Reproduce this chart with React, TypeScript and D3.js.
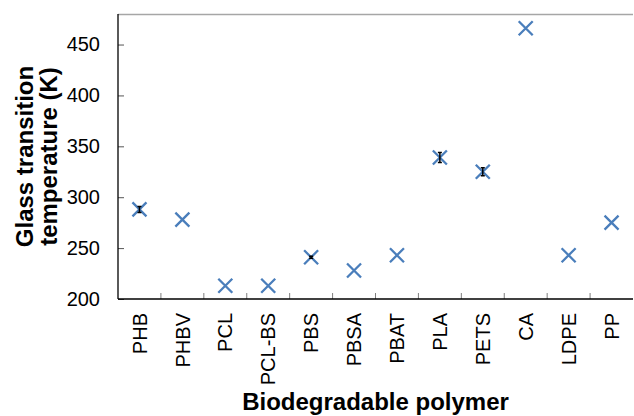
import { useEffect, useRef } from "react";
import * as d3 from "d3";

const polymers = ["PHB", "PHBV", "PCL", "PCL-BS", "PBS", "PBSA", "PBAT", "PLA", "PETS", "CA", "LDPE", "PP"];
const tgValues = [288, 278, 213, 213, 241, 228, 243, 339, 325, 466, 243, 275];
const tgErrors = [3, 0, 0, 0, 1, 0, 0, 5, 4, 0, 0, 0];
const yTicks = [200, 250, 300, 350, 400, 450];

const FONT = "'Liberation Sans', Arial, sans-serif";
const MARKER = "#4a7ebb";

export default function App() {
  const svgRef = useRef<SVGSVGElement | null>(null);

  useEffect(() => {
    if (!svgRef.current) return;
    const svg = d3.select(svgRef.current);
    svg.selectAll("*").remove();
    const width = 634;
    const height = 416;
    const margin = { top: 14, right: 1, bottom: 117, left: 118 };
    const innerWidth = width - margin.left - margin.right;
    const innerHeight = height - margin.top - margin.bottom;

    const x = d3.scaleBand().domain(polymers).range([0, innerWidth]).padding(0);
    const y = d3.scaleLinear().domain([200, 480]).range([innerHeight, 0]);

    const g = svg
      .append("g")
      .attr("transform", `translate(${margin.left},${margin.top})`);

    // top border (gray)
    g.append("line")
      .attr("x1", 0)
      .attr("x2", innerWidth)
      .attr("y1", 0.5)
      .attr("y2", 0.5)
      .attr("stroke", "#a6a6a6")
      .attr("stroke-width", 1.5);

    // x tick marks at category boundaries, pointing inside
    g.selectAll(".xtick")
      .data(polymers.slice(1))
      .enter()
      .append("line")
      .attr("class", "xtick")
      .attr("x1", (d) => x(d)!)
      .attr("x2", (d) => x(d)!)
      .attr("y1", innerHeight)
      .attr("y2", innerHeight - 6)
      .attr("stroke", "#7f7f7f")
      .attr("stroke-width", 1);

    // x labels
    g.selectAll(".xlabel")
      .data(polymers)
      .enter()
      .append("text")
      .attr("class", "xlabel")
      .attr(
        "transform",
        (d) => `translate(${x(d)! + x.bandwidth() / 2},${innerHeight + 14}) rotate(-90)`
      )
      .attr("dy", "0.36em")
      .attr("text-anchor", "end")
      .attr("font-family", FONT)
      .attr("font-size", 20)
      .attr("fill", "#000")
      .text((d) => d);

    // y axis
    const yAxis = g
      .append("g")
      .call(d3.axisLeft(y).tickValues(yTicks).tickSize(-6).tickSizeOuter(0).tickPadding(18));
    yAxis.select(".domain").remove();
    yAxis.selectAll(".tick line").attr("stroke", "#555");
    yAxis
      .selectAll("text")
      .attr("font-family", FONT)
      .attr("font-size", 20)
      .attr("fill", "#000");

    // axis lines
    g.append("line")
      .attr("x1", 0)
      .attr("x2", 0)
      .attr("y1", 0)
      .attr("y2", innerHeight)
      .attr("stroke", "#000")
      .attr("stroke-width", 1.3);
    g.append("line")
      .attr("x1", 0)
      .attr("x2", innerWidth)
      .attr("y1", innerHeight)
      .attr("y2", innerHeight)
      .attr("stroke", "#000")
      .attr("stroke-width", 1.3);

    const pts = polymers.map((p, i) => ({
      cx: x(p)! + x.bandwidth() / 2,
      v: tgValues[i],
      e: tgErrors[i],
    }));

    // markers
    const arm = 7;
    const mk = g.selectAll(".pt").data(pts).enter().append("g").attr("class", "pt");
    mk.append("path")
      .attr("d", (d) => {
        const cy = y(d.v);
        return `M${d.cx - arm},${cy - arm}L${d.cx + arm},${cy + arm}M${d.cx - arm},${cy + arm}L${d.cx + arm},${cy - arm}`;
      })
      .attr("stroke", MARKER)
      .attr("stroke-width", 2.3)
      .attr("fill", "none");

    // error bars
    g.selectAll(".err")
      .data(pts.filter((d) => d.e > 0))
      .enter()
      .append("path")
      .attr("class", "err")
      .attr("d", (d) => {
        const y0 = y(d.v - d.e);
        const y1 = y(d.v + d.e);
        return `M${d.cx},${y0}L${d.cx},${y1}M${d.cx - 2},${y0}L${d.cx + 2},${y0}M${d.cx - 2},${y1}L${d.cx + 2},${y1}`;
      })
      .attr("stroke", "#000")
      .attr("stroke-width", 1.5)
      .attr("fill", "none");

    // axis titles
    svg
      .append("text")
      .attr("x", margin.left + innerWidth / 2)
      .attr("y", 410)
      .attr("text-anchor", "middle")
      .attr("font-family", FONT)
      .attr("font-size", 24)
      .attr("font-weight", "bold")
      .text("Biodegradable polymer");
    const cy = margin.top + innerHeight / 2;
    svg
      .append("text")
      .attr("transform", `translate(33,${cy}) rotate(-90)`)
      .attr("text-anchor", "middle")
      .attr("font-family", FONT)
      .attr("font-size", 24)
      .attr("font-weight", "bold")
      .text("Glass transition");
    svg
      .append("text")
      .attr("transform", `translate(57,${cy}) rotate(-90)`)
      .attr("text-anchor", "middle")
      .attr("font-family", FONT)
      .attr("font-size", 24)
      .attr("font-weight", "bold")
      .text("temperature (K)");
  }, []);

  return (
    <svg
      ref={svgRef}
      width={634}
      height={416}
      style={{ position: "absolute", left: 0, top: 0, background: "#fff" }}
    />
  );
}
